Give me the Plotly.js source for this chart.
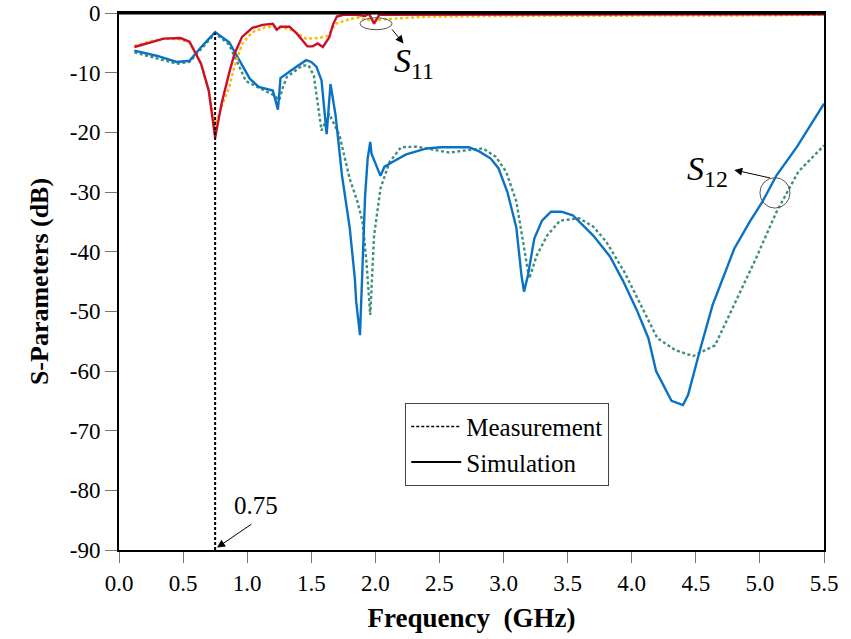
<!DOCTYPE html>
<html>
<head>
<meta charset="utf-8">
<script src="https://cdn.plot.ly/plotly-3.0.1.min.js"></script>
<style>html,body{margin:0;padding:0;background:#fff;}#chart{width:851px;height:639px;}</style>
</head>
<body>
<div id="chart"></div>
<script>
// ---- data ----
const s11SimFreq = [0.12,0.25,0.35,0.48,0.55,0.64,0.70,0.75,0.80,0.86,0.90,0.96,1.04,1.12,1.20,1.23,1.26,1.33,1.39,1.47,1.51,1.55,1.59,1.64,1.67,1.70,1.75,1.85,1.92,1.95,1.99,2.03,2.2,2.6,3.0,3.5,4.0,4.5,5.0,5.5];
const s11SimDb   = [-5.7,-4.9,-4.3,-4.2,-4.8,-8.5,-13,-20.9,-15.2,-10,-6.9,-4.0,-2.5,-2.0,-1.8,-2.8,-2.3,-2.3,-3.5,-5.6,-5.6,-5.1,-5.7,-4.1,-1.9,-0.6,-0.3,-0.3,-0.5,-0.1,-1.8,-0.3,-0.3,-0.2,-0.2,-0.2,-0.2,-0.2,-0.2,-0.2];

const s11MeasFreq = [0.12,0.25,0.35,0.48,0.55,0.64,0.70,0.75,0.78,0.86,0.90,0.96,1.04,1.15,1.25,1.35,1.46,1.56,1.63,1.69,1.72,1.80,1.87,1.98,2.1,2.42,3.0,3.5,4.0,4.5,5.0,5.5];
const s11MeasDb   = [-5.5,-4.7,-4.3,-4.4,-5.0,-8.5,-13,-19,-16.9,-12.4,-9,-5.2,-3.2,-2.3,-2.3,-2.9,-4.3,-4.2,-3.8,-1.8,-1.6,-1.0,-0.8,-1.3,-1.0,-0.6,-0.5,-0.5,-0.4,-0.4,-0.4,-0.3];

const s12SimFreq = [0.12,0.30,0.45,0.55,0.65,0.75,0.86,0.94,1.02,1.09,1.20,1.24,1.26,1.35,1.46,1.50,1.54,1.58,1.62,1.65,1.69,1.74,1.80,1.84,1.85,1.88,1.92,1.94,1.96,1.97,2.00,2.04,2.07,2.13,2.24,2.40,2.51,2.73,2.81,2.90,2.96,3.03,3.10,3.14,3.16,3.19,3.24,3.30,3.37,3.45,3.54,3.70,3.83,3.93,4.04,4.13,4.19,4.31,4.40,4.44,4.53,4.63,4.80,4.92,5.02,5.13,5.29,5.5];
const s12SimDb   = [-6.3,-7.2,-8.2,-8.0,-5.5,-3.2,-4.9,-8,-11,-12.4,-13,-16.2,-10.9,-9.5,-7.9,-8.2,-9,-11.3,-20.3,-11.9,-17.2,-27.3,-36,-44.5,-48.3,-54,-30.6,-24.4,-21.6,-23.6,-25.3,-27.3,-25.8,-25,-23.7,-22.7,-22.5,-22.5,-23.2,-24.4,-26,-30,-36,-44,-46.7,-44,-37.8,-34.8,-33.3,-33.3,-33.9,-37.3,-40.8,-44.8,-49.8,-54.5,-60,-65,-65.7,-64,-56.7,-49,-39.5,-35,-31.6,-27.2,-22.4,-15.2];

const s12MeasFreq = [0.12,0.30,0.45,0.55,0.65,0.75,0.86,0.99,1.09,1.21,1.25,1.28,1.31,1.43,1.48,1.52,1.58,1.64,1.72,1.80,1.86,1.90,1.93,1.96,1.99,2.04,2.11,2.20,2.32,2.47,2.58,2.71,2.84,2.94,3.02,3.10,3.16,3.20,3.26,3.34,3.44,3.59,3.70,3.80,3.94,4.07,4.20,4.34,4.48,4.65,4.81,4.97,5.13,5.30,5.5];
const s12MeasDb   = [-6.6,-7.6,-8.5,-8.2,-5.8,-3.4,-5.3,-11.4,-12.5,-13.8,-14.6,-12.4,-10.7,-8.8,-8.8,-10.5,-19.7,-16.9,-20.5,-27.8,-31.6,-35,-41.6,-50.6,-37.3,-29.4,-25,-22.5,-22.4,-23,-23.4,-23,-22.7,-24.1,-26.6,-31.6,-39.5,-44.5,-40.6,-37.3,-34.8,-34.4,-35.8,-38.3,-43.3,-49,-54.5,-56.5,-57.5,-55.7,-48.3,-41.1,-33.3,-26.6,-22.2];

const xTickVals = [0,0.5,1,1.5,2,2.5,3,3.5,4,4.5,5,5.5];
const xTickText = ["0.0","0.5","1.0","1.5","2.0","2.5","3.0","3.5","4.0","4.5","5.0","5.5"];
const yTickVals = [0,-10,-20,-30,-40,-50,-60,-70,-80,-90];
const yTickText = ["0","-10","-20","-30","-40","-50","-60","-70","-80","-90"];

const resonanceFreq = 0.75;
const resonancePeakDb = -3.3;
const legendNames = ["Measurement","Simulation"];

// ---- chart ----
const serif = "Liberation Serif";
const measDash = "3px,2.5px";

const traces = [
  {x: s12MeasFreq, y: s12MeasDb, mode: "lines", line: {color: "#3f8f80", width: 2.4, dash: measDash}, showlegend: false, hoverinfo: "skip"},
  {x: s12SimFreq,  y: s12SimDb,  mode: "lines", line: {color: "#0a72c4", width: 2.4}, showlegend: false, hoverinfo: "skip"},
  {x: s11MeasFreq, y: s11MeasDb, mode: "lines", line: {color: "#ffb900", width: 2.4, dash: measDash}, showlegend: false, hoverinfo: "skip"},
  {x: s11SimFreq,  y: s11SimDb,  mode: "lines", line: {color: "#c8102e", width: 2.4}, showlegend: false, hoverinfo: "skip"},
  {x: [null], y: [null], mode: "lines", name: legendNames[0], line: {color: "#000", width: 1.5, dash: "3px,2px"}},
  {x: [null], y: [null], mode: "lines", name: legendNames[1], line: {color: "#000", width: 2}}
];

const layout = {
  width: 851, height: 639,
  margin: {l: 119, r: 27, t: 13, b: 89},
  paper_bgcolor: "#fff", plot_bgcolor: "#fff",
  font: {family: serif, color: "#000", size: 23},
  showlegend: true,
  legend: {
    x: 0.406, y: 0.274, xanchor: "left", yanchor: "top",
    bgcolor: "#fff", bordercolor: "#444", borderwidth: 1,
    font: {family: serif, size: 25, color: "#000"},
    itemwidth: 50
  },
  xaxis: {
    range: [0, 5.5], tickmode: "array", tickvals: xTickVals, ticktext: xTickText,
    showgrid: false, zeroline: false,
    showline: true, linecolor: "#000", linewidth: 2, mirror: true,
    ticks: "outside", ticklen: 11, tickwidth: 1, tickcolor: "#777",
    tickfont: {family: serif, size: 23, color: "#000"},
    title: {text: "<b>Frequency  (GHz)</b>", font: {family: serif, size: 27, color: "#000"}, standoff: 14}
  },
  yaxis: {
    range: [-90, 0], tickmode: "array", tickvals: yTickVals, ticktext: yTickText,
    showgrid: false, zeroline: false,
    showline: true, linecolor: "#000", linewidth: 2, mirror: true,
    ticks: "outside", ticklen: 12, tickwidth: 1, tickcolor: "#777",
    tickfont: {family: serif, size: 23, color: "#000"},
    title: {text: "<b>S-Parameters (dB)</b>", font: {family: serif, size: 26, color: "#000"}, standoff: 14}
  },
  shapes: [
    {type: "line", xref: "x", yref: "y", x0: resonanceFreq, x1: resonanceFreq, y0: -90, y1: resonancePeakDb,
     line: {color: "#000", width: 2, dash: "3px,2px"}},
    {type: "circle", xref: "x", yref: "y", x0: 1.88, x1: 2.13, y0: -0.8, y1: -2.8,
     line: {color: "#555", width: 1}},
    {type: "circle", xref: "x", yref: "y", x0: 5.0, x1: 5.235, y0: -27.6, y1: -32.7,
     line: {color: "#555", width: 1}},
    {type: "line", xref: "paper", yref: "paper", x0: 0, x1: 1, y0: 1, y1: 1,
     line: {color: "#000", width: 3}}
  ],
  annotations: [
    {xref: "x", yref: "y", x: 1.07, y: -82.6, text: "0.75", showarrow: false,
     font: {family: serif, size: 25, color: "#000"}},
    {xref: "x", yref: "y", x: 0.765, y: -89.6, axref: "x", ayref: "y", ax: 1.045, ay: -85.5,
     text: "", showarrow: true, arrowhead: 2, arrowsize: 1.6, arrowwidth: 1, arrowcolor: "#000"},
    {xref: "x", yref: "y", x: 2.30, y: -8.3, text: "<i>S</i><sub>11</sub>", showarrow: false,
     font: {family: serif, size: 34, color: "#000"}},
    {xref: "x", yref: "y", x: 2.22, y: -5.1, axref: "x", ayref: "y", ax: 2.12, ay: -2.5,
     text: "", showarrow: true, arrowhead: 2, arrowsize: 1.6, arrowwidth: 1, arrowcolor: "#000"},
    {xref: "x", yref: "y", x: 4.59, y: -26.4, text: "<i>S</i><sub>12</sub>", showarrow: false,
     font: {family: serif, size: 34, color: "#000"}},
    {xref: "x", yref: "y", x: 4.80, y: -26.3, axref: "x", ayref: "y", ax: 5.09, ay: -27.7,
     text: "", showarrow: true, arrowhead: 2, arrowsize: 1.6, arrowwidth: 1, arrowcolor: "#000"}
  ]
};

Plotly.newPlot("chart", traces, layout, {staticPlot: true, displayModeBar: false});
</script>
</body>
</html>
